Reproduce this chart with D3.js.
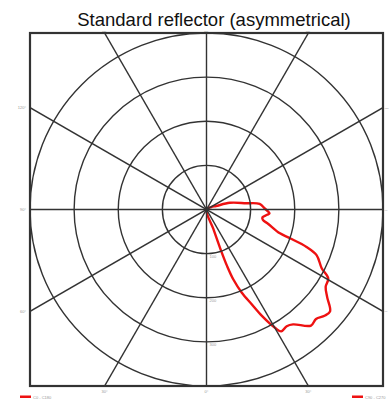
<html lang="en">

<head>
  <meta charset="UTF-8" />
  <title>Standard reflector (asymmetrical)</title>
  <style>
    body,
    html {
      margin: 0;
      padding: 0;
      background: white;
    }

    .title {
      font-family: "Liberation Sans", Arial, sans-serif;
      font-size: 18.5px;
      fill: #111;
    }

    .tiny {
      font-family: "Liberation Sans", Arial, sans-serif;
      font-size: 4px;
      fill: #999;
    }
  </style>
</head>

<body>
  <div id="canvas"></div>
  <script src="https://cdn.jsdelivr.net/npm/d3@7"></script>

  <script>
    // polar curve, angle in degrees from nadir (0° = down), value in cd/klm
    const curveAngles = [20, 118, 110, 106, 99, 96, 91, 86.5, 85, 82, 79.5, 77, 72, 71, 69.5, 67.5, 63, 60.5, 57, 54,
      50.5, 48, 45, 42, 37, 34.5, 31.5, 30, 27.5, 25.5, 23, 21, 20, 19.5, 19.5
    ];
    const curveValues = [0, 12, 23, 55, 91, 121, 132, 143, 138, 128, 130, 143, 175, 200, 242, 270, 293, 317, 322, 338,
      363, 360, 351, 354, 326, 321, 324, 309, 272, 238, 205, 170, 136, 100, 50
    ];

    const ringValues = [100, 200, 300, 400];
    const ringLabels = ["100", "200", "300"];
    const spokeAngles = [0, 30, 60, 90, 120, 150];

    const sideLabels = ["120°", "90°", "60°"];
    const sideAngles = [120, 90, 60];
    const bottomLabels = ["30°", "0°", "30°"];
    const bottomAngles = [-30, 0, 30];
    const topLabels = ["150°", "180°", "150°"];
    const topAngles = [-150, 180, 150];

    const legendNames = ["C0 - C180", "C90 - C270"];

    const w = 389;
    const h = 401;
    const cx = 206.5;
    const cy = 209.5;
    const R = 176.5;

    const svg = d3.select("#canvas")
      .append("svg")
      .attr("width", w)
      .attr("height", h)

    // title
    svg.append("text")
      .attr("class", "title")
      .attr("x", 214)
      .attr("y", 26)
      .attr("text-anchor", "middle")
      .text("Standard reflector (asymmetrical)")

    svg.append("clipPath")
      .attr("id", "frameClip")
      .append("rect")
      .attr("x", cx - R)
      .attr("y", cy - R)
      .attr("width", 2 * R)
      .attr("height", 2 * R)

    const r = d3.scaleLinear()
      .domain([0, 400])
      .range([0, R])

    const chart = svg.append("g")
      .attr("transform", "translate(" + cx + "," + cy + ")")

    const grid = svg.append("g")
      .attr("clip-path", "url(#frameClip)")
      .append("g")
      .attr("transform", "translate(" + cx + "," + cy + ")")

    // rings
    grid.selectAll(".ring")
      .data(ringValues)
      .enter()
      .append("circle")
      .attr("class", "ring")
      .attr("r", d => r(d))
      .style("fill", "none")
      .style("stroke", "#333")
      .style("stroke-width", 1.4)

    // spokes, long enough to reach the corners then clipped
    grid.selectAll(".spoke")
      .data(spokeAngles)
      .enter()
      .append("line")
      .attr("class", "spoke")
      .attr("x1", d => -Math.sin(d * Math.PI / 180) * R * 1.5)
      .attr("y1", d => -Math.cos(d * Math.PI / 180) * R * 1.5)
      .attr("x2", d => Math.sin(d * Math.PI / 180) * R * 1.5)
      .attr("y2", d => Math.cos(d * Math.PI / 180) * R * 1.5)
      .style("stroke", "#333")
      .style("stroke-width", 1.4)

    // frame
    svg.append("rect")
      .attr("x", cx - R)
      .attr("y", cy - R)
      .attr("width", 2 * R)
      .attr("height", 2 * R)
      .style("fill", "none")
      .style("stroke", "#333")
      .style("stroke-width", 2.2)

    // ring labels below the centre
    chart.selectAll(".ringLabel")
      .data(ringLabels)
      .enter()
      .append("text")
      .attr("class", "tiny")
      .attr("x", 3)
      .attr("y", (d, i) => r(ringValues[i]) + 4)
      .text(d => d)

    // where a spoke meets the frame
    function edgePoint(a) {
      const rad = a * Math.PI / 180;
      const dx = Math.sin(rad),
        dy = Math.cos(rad);
      const t = R / Math.max(Math.abs(dx), Math.abs(dy));
      return [dx * t, dy * t];
    }

    chart.selectAll(".leftLabel")
      .data(sideLabels)
      .enter()
      .append("text")
      .attr("class", "tiny")
      .attr("text-anchor", "end")
      .attr("x", -R - 4)
      .attr("y", (d, i) => edgePoint(sideAngles[i])[1] + 1.5)
      .text(d => d)

    chart.selectAll(".rightLabel")
      .data(sideLabels)
      .enter()
      .append("text")
      .attr("class", "tiny")
      .style("font-size", "2.4px")
      .attr("x", R + 1.6)
      .attr("y", (d, i) => edgePoint(sideAngles[i])[1] + 1)
      .text(d => d)

    chart.selectAll(".bottomLabel")
      .data(bottomLabels)
      .enter()
      .append("text")
      .attr("class", "tiny")
      .attr("text-anchor", "middle")
      .attr("x", (d, i) => edgePoint(bottomAngles[i])[0])
      .attr("y", R + 7)
      .text(d => d)

    chart.selectAll(".topLabel")
      .data(topLabels)
      .enter()
      .append("text")
      .attr("class", "tiny")
      .style("font-size", "2.5px")
      .attr("text-anchor", "middle")
      .attr("x", (d, i) => edgePoint(topAngles[i])[0])
      .attr("y", -R - 1.3)
      .text(d => d)

    // the light distribution curve
    const curveData = curveAngles.map((a, i) => [a, curveValues[i]]);

    const line = d3.lineRadial()
      .angle(d => Math.PI - d[0] * Math.PI / 180)
      .radius(d => r(d[1]))
      .curve(d3.curveCatmullRomClosed.alpha(0.5))

    chart.append("path")
      .datum(curveData)
      .attr("d", line)
      .style("fill", "none")
      .style("stroke", "#ee1111")
      .style("stroke-width", 2.4)
      .style("stroke-linejoin", "round")

    // legend
    const legendX = [20, 352];
    const legend = svg.selectAll(".legend")
      .data(legendNames)
      .enter()
      .append("g")
      .attr("transform", (d, i) => "translate(" + legendX[i] + ",397)")

    legend.append("rect")
      .attr("width", 11)
      .attr("height", 2.5)
      .attr("y", -1.5)
      .style("fill", "#ee1111")

    legend.append("text")
      .attr("class", "tiny")
      .attr("x", 13)
      .attr("y", 1.5)
      .text(d => d)
  </script>

</body>

</html>
